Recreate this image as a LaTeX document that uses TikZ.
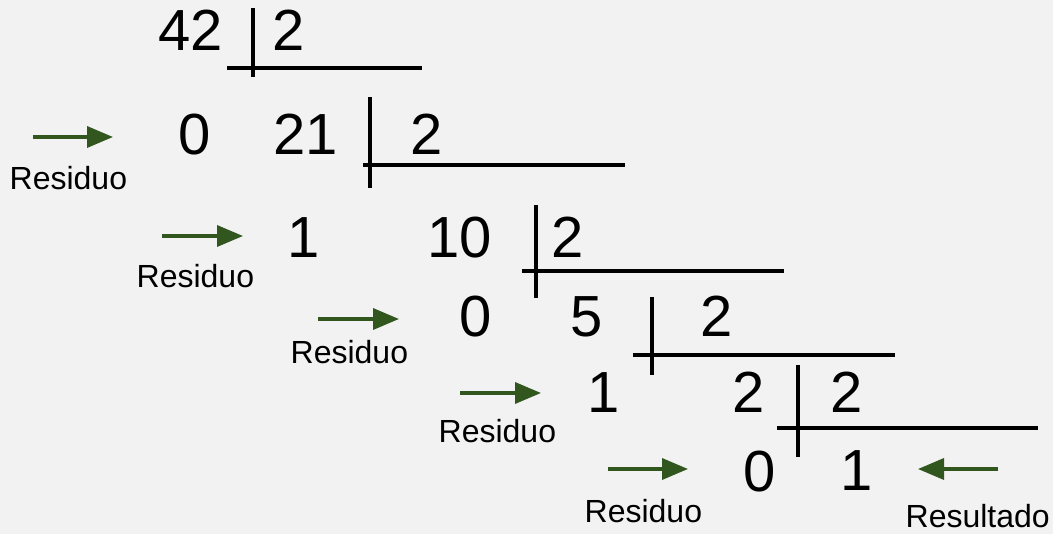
\documentclass[tikz,border=0pt]{standalone}
\usepackage{fontspec}
\setmainfont{Liberation Sans}
\usetikzlibrary{arrows.meta}
\definecolor{bgray}{HTML}{F2F2F2}
\definecolor{arrowgreen}{RGB}{49,87,30}
\tikzset{
  num/.style={inner sep=0pt, anchor=base, font=\fontsize{58}{60}\selectfont},
  lbl/.style={inner sep=0pt, anchor=base west, font=\fontsize{32}{34}\selectfont},
  bar/.style={line width=4pt, black},
  garrow/.style={line width=3.5pt, arrowgreen, -{Triangle[length=26pt,width=21pt]}}
}
\begin{document}
\begin{tikzpicture}[x=1pt,y=-1pt]
\fill[bgray] (0,0) rectangle (1053,534);
\useasboundingbox (0,0) rectangle (1053,534);
% row 1
\node[num] (n42) at (191,51) {42};
\node[num] (d1) at (289,51) {2};
\coordinate (v1a) at (253,8); \coordinate (v1b) at (253,77);
\coordinate (h1a) at (227,68); \coordinate (h1b) at (422,68);
\draw[bar] (v1a) -- (v1b); \draw[bar] (h1a) -- (h1b);
% row 2
\node[num] (r1) at (195,155) {0};
\node[num] (n21) at (306,155) {21};
\node[num] (d2) at (427,155) {2};
\coordinate (v2a) at (370,97); \coordinate (v2b) at (370,188);
\coordinate (h2a) at (363,165); \coordinate (h2b) at (625,165);
\draw[bar] (v2a) -- (v2b); \draw[bar] (h2a) -- (h2b);
\coordinate (a2s) at (33,137); \coordinate (a2e) at (113,137);
\draw[garrow] (a2s) -- (a2e);
\node[lbl] (l2) at (9.5,190) {Residuo};
% row 3
\node[num] (r2) at (304,258) {1};
\node[num] (n10) at (460,258) {10};
\node[num] (d3) at (568,258) {2};
\coordinate (v3a) at (536,205); \coordinate (v3b) at (536,298);
\coordinate (h3a) at (522,271); \coordinate (h3b) at (784,271);
\draw[bar] (v3a) -- (v3b); \draw[bar] (h3a) -- (h3b);
\coordinate (a3s) at (162,236); \coordinate (a3e) at (243,236);
\draw[garrow] (a3s) -- (a3e);
\node[lbl] (l3) at (136.5,288) {Residuo};
% row 4
\node[num] (r3) at (476,337) {0};
\node[num] (n5) at (587,337) {5};
\node[num] (d4) at (717,337) {2};
\coordinate (v4a) at (652,297); \coordinate (v4b) at (652,375);
\coordinate (h4a) at (633,355); \coordinate (h4b) at (895,355);
\draw[bar] (v4a) -- (v4b); \draw[bar] (h4a) -- (h4b);
\coordinate (a4s) at (318,319); \coordinate (a4e) at (399,319);
\draw[garrow] (a4s) -- (a4e);
\node[lbl] (l4) at (290.5,364) {Residuo};
% row 5
\node[num] (r4) at (604,413) {1};
\node[num] (n2) at (749,413) {2};
\node[num] (d5) at (847,413) {2};
\coordinate (v5a) at (798,365); \coordinate (v5b) at (798,457);
\coordinate (h5a) at (777,428); \coordinate (h5b) at (1038,428);
\draw[bar] (v5a) -- (v5b); \draw[bar] (h5a) -- (h5b);
\coordinate (a5s) at (460,393); \coordinate (a5e) at (541,393);
\draw[garrow] (a5s) -- (a5e);
\node[lbl] (l5) at (438.5,443) {Residuo};
% row 6
\node[num] (r5) at (760,492) {0};
\node[num] (q) at (857,491) {1};
\coordinate (a6s) at (608,469); \coordinate (a6e) at (688,469);
\draw[garrow] (a6s) -- (a6e);
\node[lbl] (l6) at (584.5,523) {Residuo};
\coordinate (a7s) at (998,469); \coordinate (a7e) at (918,469);
\draw[garrow] (a7s) -- (a7e);
\node[lbl] (l7) at (905.5,528) {Resultado};
\end{tikzpicture}
\end{document}
